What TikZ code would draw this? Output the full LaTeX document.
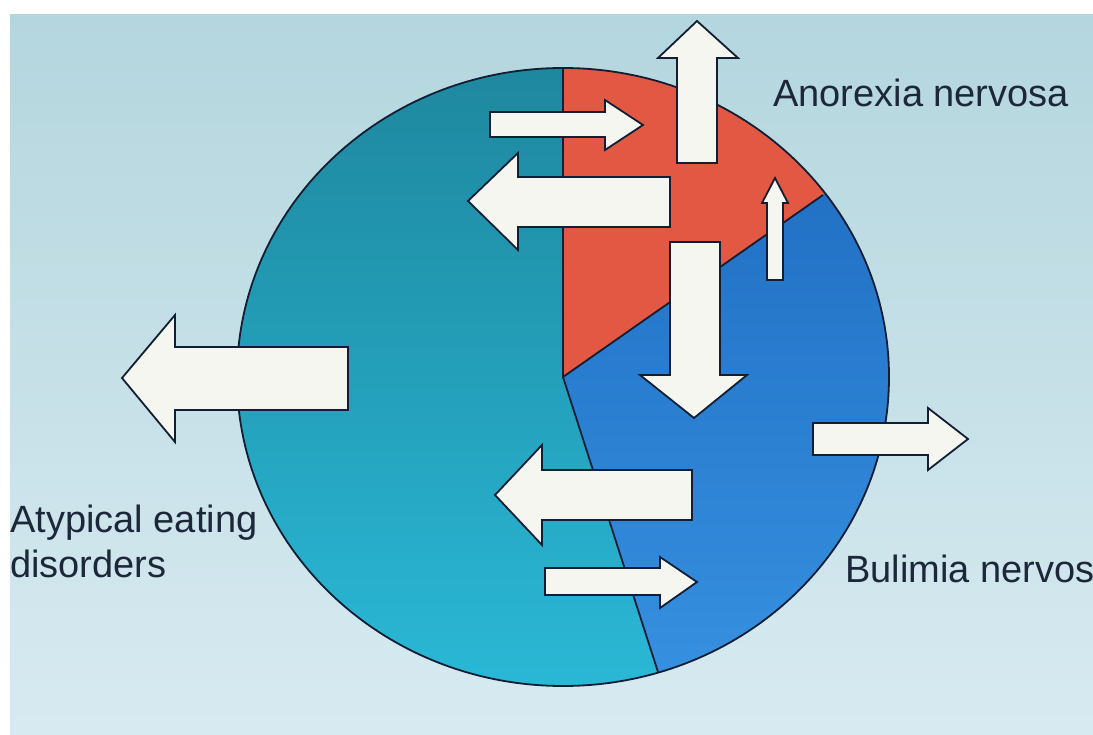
\documentclass[tikz,border=0pt]{standalone}
\usepackage{fontspec}
\setmainfont{Liberation Sans}
\definecolor{bgtop}{RGB}{180,214,222}
\definecolor{bgbot}{RGB}{216,234,241}
\definecolor{tealtop}{RGB}{30,135,158}
\definecolor{tealbot}{RGB}{42,185,215}
\definecolor{bluetop}{RGB}{28,105,190}
\definecolor{bluebot}{RGB}{55,145,225}
\definecolor{redfill}{RGB}{226,88,66}
\definecolor{edge}{RGB}{18,30,52}
\definecolor{arrowfill}{RGB}{246,246,240}
\definecolor{labeltext}{RGB}{28,40,58}
\begin{document}
\begin{tikzpicture}[x=1pt,y=-1pt,
  blockarrow/.style={draw=edge, fill=arrowfill, line width=1.8pt, line join=miter},
  edgeline/.style={draw=edge, line width=1.8pt},
  lbl/.style={anchor=base west, inner sep=0pt, text=labeltext,
              font=\fontsize{38}{45}\selectfont, align=left}]
\useasboundingbox (0,0) rectangle (1093,735);
\fill[white] (0,0) rectangle (1093,735);
\shade[top color=bgtop, bottom color=bgbot] (10,15) rectangle (1093,735);

% pie
\coordinate (c) at (563,377);
\coordinate (ptop) at (563,68);
\coordinate (prb) at (823,195);
\coordinate (pbt) at (658,672);
\begin{scope}
  \clip (c) ellipse [x radius=326, y radius=309];
  \shade[top color=bluetop, bottom color=bluebot] (230,60) rectangle (900,700);
  \shade[top color=tealtop, bottom color=tealbot]
    (563,60) -- (c) -- (667,700) -- (230,700) -- (230,60) -- cycle;
  \fill[redfill] (c) -- (563,60) -- (1000,60) -- (1000,71) -- cycle;
\end{scope}
\draw[edgeline] (ptop) -- (c) -- (prb);
\draw[edgeline] (c) -- (pbt);
\draw[edgeline] (c) ellipse [x radius=326, y radius=309];

% arrows
\draw[blockarrow] (490,112) -- (605,112) -- (605,100) -- (643,125) -- (605,150) -- (605,137) -- (490,137) -- cycle;
\draw[blockarrow] (677,163) -- (677,58) -- (658,58) -- (697,21) -- (738,58) -- (717,58) -- (717,163) -- cycle;
\draw[blockarrow] (670,177) -- (518,177) -- (518,153) -- (468,201) -- (518,250) -- (518,227) -- (670,227) -- cycle;
\draw[blockarrow] (767,280) -- (767,203) -- (762,203) -- (775,178) -- (788,203) -- (783,203) -- (783,280) -- cycle;
\draw[blockarrow] (670,242) -- (720,242) -- (720,375) -- (747,375) -- (694,418) -- (640,375) -- (670,375) -- cycle;
\draw[blockarrow] (692,470) -- (542,470) -- (542,445) -- (495,495) -- (542,545) -- (542,520) -- (692,520) -- cycle;
\draw[blockarrow] (545,568) -- (660,568) -- (660,557) -- (697,582) -- (660,608) -- (660,595) -- (545,595) -- cycle;
\draw[blockarrow] (348,347) -- (175,347) -- (175,315) -- (122,378) -- (175,442) -- (175,410) -- (348,410) -- cycle;
\draw[blockarrow] (813,423) -- (928,423) -- (928,408) -- (968,439) -- (928,470) -- (928,455) -- (813,455) -- cycle;

% labels
\node[lbl] (anorexia) at (773,107) {Anorexia nervosa};
\node[lbl] (bulimia) at (845,582) {Bulimia nervos};
\node[lbl] (atypical) at (10,577) {Atypical eating\\disorders};
\end{tikzpicture}
\end{document}
